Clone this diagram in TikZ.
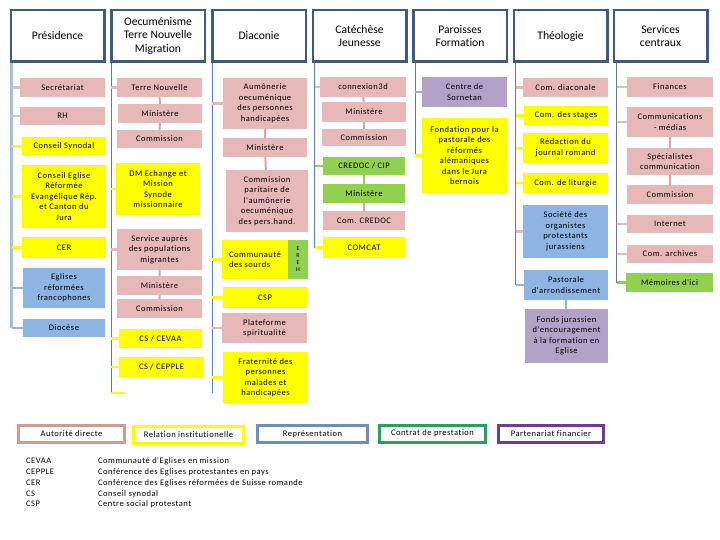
\documentclass[tikz,border=0pt]{standalone}
\usepackage{fontspec}
\setmainfont{Carlito}[Ligatures=NoCommon]
\newfontfamily\smallfont[LetterSpace=6, Ligatures=NoCommon]{Carlito}
\usepackage{tikz}

\definecolor{headline}{HTML}{3F5A7A}
\definecolor{pinkfill}{HTML}{E6B9B8}
\definecolor{yellowfill}{HTML}{FFFF00}
\definecolor{greenfill}{HTML}{92D050}
\definecolor{bluefill}{HTML}{8DB4E2}
\definecolor{purplefill}{HTML}{B3A2C7}
\definecolor{spineblue}{HTML}{5B7DA6}
\definecolor{palespine}{HTML}{A7BFDE}
\definecolor{pinkline}{HTML}{D8A4A3}
\definecolor{legpink}{HTML}{D09A99}
\definecolor{legblue}{HTML}{6C8EBF}
\definecolor{leggreen}{HTML}{2E9E5B}
\definecolor{legpurple}{HTML}{6E3C96}

\tikzset{
  headbox/.style={draw=headline, line width=2.5pt, fill=white, minimum width=93.5pt,
    minimum height=51.5pt, align=center, inner sep=1pt, font=\fontsize{11.6}{13.5}\selectfont},
  orgbox/.style={minimum height=19pt, minimum width=85pt, align=center, inner sep=1pt,
    font=\smallfont\fontsize{8.5}{10.5}\selectfont},
  pinkbox/.style={orgbox, fill=pinkfill},
  yellowbox/.style={orgbox, fill=yellowfill},
  greenbox/.style={orgbox, fill=greenfill},
  bluebox/.style={orgbox, fill=bluefill},
  purplebox/.style={orgbox, fill=purplefill},
  spine/.style={draw=spineblue, line width=0.8pt},
  stub/.style={line width=2.5pt},
  link/.style={line width=2pt},
  legbox/.style={draw, line width=3pt, fill=white, minimum height=17pt, inner sep=1pt,
    font=\smallfont\fontsize{8.5}{10.5}\selectfont},
  abbr/.style={anchor=west, inner sep=0pt, font=\smallfont\fontsize{8.5}{10.5}\selectfont}
}

\begin{document}
\begin{tikzpicture}[x=1pt, y=-1pt]
        \useasboundingbox (0,0) rectangle (720,540);

        % Column heads
        \node[headbox] (pres) at (57.5,36) {Présidence};
        \node[headbox] (oecu) at (158,36) {Oecuménisme\\Terre Nouvelle\\Migration};
        \node[headbox] (diac) at (259,36) {Diaconie};
        \node[headbox] (cate) at (359.5,36) {Catéchèse\\Jeunesse};
        \node[headbox] (paro) at (460,36) {Paroisses\\Formation};
        \node[headbox] (theo) at (560.5,36) {Théologie};
        \node[headbox] (serv) at (660.5,36) {Services\\centraux};

        % Présidence
        \node[pinkbox] (sec) at (62.5,87.5) {Secrétariat};
        \node[pinkbox, minimum height=18pt] (rh) at (62.5,116) {RH};
        \node[yellowbox, minimum width=84pt, minimum height=18pt] (cs) at (64,146) {Conseil Synodal};
        \node[yellowbox, minimum width=84pt, minimum height=63pt] (cerj) at (64,196.5) {Conseil Eglise\\Réformée\\Evangélique Rép.\\et Canton du\\Jura};
        \node[yellowbox, minimum width=84pt, minimum height=21pt] (cer) at (64,247.5) {CER};
        \node[bluebox, minimum width=82pt, minimum height=40pt] (erf) at (64,288) {Eglises\\réformées\\francophones};
        \node[bluebox, minimum width=82pt, minimum height=18pt] (dioc) at (64,328) {Diocèse};

        % Oecuménisme
        \node[pinkbox] (tn) at (159.5,87.5) {Terre Nouvelle};
        \node[pinkbox, minimum width=84pt] (oMin) at (160,113.5) {Ministère};
        \node[pinkbox, minimum height=18pt] (oCom) at (159.5,139) {Commission};
        \node[yellowbox, minimum width=84pt, minimum height=52pt] (dm) at (158,189) {DM Echange et\\Mission\\Synode\\missionnaire};
        \node[pinkbox, minimum height=41pt] (spm) at (159.5,249.5) {Service auprès\\des populations\\migrantes};
        \node[pinkbox] (oMinb) at (159.5,285.5) {Ministère};
        \node[pinkbox] (oComb) at (159.5,308.5) {Commission};
        \node[yellowbox, minimum width=83pt] (cevaa) at (160.5,338.5) {CS / CEVAA};
        \node[yellowbox, minimum height=20pt] (cepple) at (161.5,367) {CS / CEPPLE};
        \coordinate (oEnd) at (125,393);

        % Diaconie
        \node[pinkbox, minimum width=84pt, minimum height=51pt] (aum) at (265,103.5) {Aumônerie\\oecuménique\\des personnes\\handicapées};
        \node[pinkbox, minimum width=84pt] (dMin) at (265,147.5) {Ministère};
        \node[pinkbox, minimum width=82pt, minimum height=62pt] (cpa) at (267,201) {Commission\\paritaire de\\l'aumônerie\\oecuménique\\des pers.hand.};
        \node[yellowbox, minimum width=66pt, minimum height=39pt, align=left] (sourds) at (255,259.5) {Communauté\\des sourds};
        \node[greenbox, minimum width=20pt, minimum height=39pt, font=\smallfont\fontsize{6}{7}\selectfont] (sereh) at (298,259.5) {E\\R\\E\\H};
        \node[yellowbox, minimum width=84pt, minimum height=21pt] (csp) at (265,297.5) {CSP};
        \node[pinkbox, minimum height=30pt] (plat) at (264.5,328) {Plateforme\\spiritualité};
        \node[yellowbox, minimum height=51pt] (frat) at (265.5,377.5) {Fraternité des\\personnes\\malades et\\handicapées};
        \coordinate (dEnd) at (0,393);

        % Catéchèse
        \node[pinkbox, minimum width=86pt, minimum height=20pt] (c3d) at (363,87) {connexion3d};
        \node[pinkbox, minimum width=84pt, minimum height=20pt] (cMin) at (364,112) {Ministère};
        \node[pinkbox, minimum width=84pt, minimum height=17pt] (cCom) at (364,137.5) {Commission};
        \node[greenbox, minimum width=82pt, minimum height=18pt] (credoc) at (364,166) {CREDOC / CIP};
        \node[greenbox, minimum width=82pt] (cMinb) at (364,193.5) {Ministère};
        \node[pinkbox, minimum width=82pt] (ccred) at (364,220.5) {Com. CREDOC};
        \node[yellowbox, minimum width=82pt, minimum height=21pt] (comcat) at (364,247.5) {COMCAT};

        % Paroisses
        \node[purplebox, minimum height=30pt] (sorn) at (464.5,92) {Centre de\\Sornetan};
        \node[yellowbox, minimum height=75pt] (fond) at (464.5,155.5) {Fondation pour la\\pastorale des\\réformés\\alémaniques\\dans le Jura\\bernois};

        % Théologie
        \node[pinkbox] (cdia) at (565.5,87.5) {Com. diaconale};
        \node[yellowbox, minimum width=84pt] (cstag) at (566,115.5) {Com. des stages};
        \node[yellowbox, minimum height=30pt] (redac) at (565.5,148) {Rédaction du\\journal romand};
        \node[yellowbox, minimum height=20pt] (clit) at (565.5,183) {Com. de liturgie};
        \node[bluebox, minimum height=53pt] (sorg) at (565.5,231.5) {Société des\\organistes\\protestants\\jurassiens};
        \node[bluebox, minimum width=84pt, minimum height=30pt] (past) at (566,285) {Pastorale\\d'arrondissement};
        \node[purplebox, minimum width=83pt, minimum height=54pt] (fonds) at (566.5,336) {Fonds jurassien\\d'encouragement\\à la formation en\\Eglise};

        % Services centraux
        \node[pinkbox, minimum width=86pt, minimum height=20pt] (fin) at (670,87) {Finances};
        \node[pinkbox, minimum width=86pt, minimum height=30pt] (comm) at (670,122) {Communications\\- médias};
        \node[pinkbox, minimum width=86pt, minimum height=27pt] (spec) at (670,161.5) {Spécialistes\\communication};
        \node[pinkbox, minimum width=86pt] (sCom) at (670,194.5) {Commission};
        \node[pinkbox, minimum width=86pt, minimum height=18pt] (inet) at (670,224) {Internet};
        \node[pinkbox, minimum width=86pt, minimum height=18pt] (arch) at (670,254) {Com. archives};
        \node[greenbox, minimum width=87pt] (mem) at (669.5,282.5) {Mémoires d'ici};

        % Spine tops
        \coordinate (pTop) at ([xshift=2pt]pres.south west);
        \coordinate (oTop) at ([xshift=1pt]oecu.south west);
        \coordinate (dTop) at ([xshift=1pt]diac.south west);
        \coordinate (cTop) at ([xshift=3pt]cate.south west);
        \coordinate (fTop) at ([xshift=3pt]paro.south west);
        \coordinate (tTop) at ([xshift=3pt]theo.south west);
        \coordinate (sTop) at ([xshift=4pt]serv.south west);

        % Spines
        \draw[palespine, line width=3pt] (pTop) -- (pTop |- dioc.west);
        \draw[spine] (oTop) -- (oTop |- oEnd);
        \draw[spine] (dTop) -- (dTop |- dEnd);
        \draw[spine] (cTop) -- (cTop |- comcat.west);
        \draw[spine] (fTop) -- (fTop |- fond.west);
        \draw[spine] (tTop) -- (tTop |- past.west);
        \draw[spine] (sTop) -- (sTop |- mem.west);

        % Stubs
        \draw[stub, pinkfill] (sec.west -| pTop) -- (sec.west);
        \draw[stub, pinkfill] (rh.west -| pTop) -- (rh.west);
        \draw[stub, yellowfill] (cs.west -| pTop) -- (cs.west);
        \draw[stub, yellowfill] (cerj.west -| pTop) -- (cerj.west);
        \draw[stub, yellowfill] (cer.west -| pTop) -- (cer.west);
        \draw[stub, bluefill] (erf.west -| pTop) -- (erf.west);
        \draw[stub, bluefill] (dioc.west -| pTop) -- (dioc.west);

        \draw[stub, pinkfill] (tn.west -| oTop) -- (tn.west);
        \draw[stub, yellowfill] (dm.west -| oTop) -- (dm.west);
        \draw[stub, pinkfill] (spm.west -| oTop) -- (spm.west);
        \draw[stub, yellowfill] (cevaa.west -| oTop) -- (cevaa.west);
        \draw[stub, yellowfill] (cepple.west -| oTop) -- (cepple.west);
        \draw[stub, yellowfill] (oEnd -| oTop) -- (oEnd);

        \draw[stub, pinkfill] (aum.west -| dTop) -- (aum.west);
        \draw[stub, yellowfill] (sourds.west -| dTop) -- (sourds.west);
        \draw[stub, yellowfill] (csp.west -| dTop) -- (csp.west);
        \draw[stub, pinkfill] (plat.west -| dTop) -- (plat.west);
        \draw[stub, yellowfill] (frat.west -| dTop) -- (frat.west);

        \draw[stub, pinkfill] (c3d.west -| cTop) -- (c3d.west);
        \draw[stub, greenfill] (credoc.west -| cTop) -- (credoc.west);
        \draw[stub, yellowfill] (comcat.west -| cTop) -- (comcat.west);

        \draw[stub, purplefill] (sorn.west -| fTop) -- (sorn.west);
        \draw[stub, yellowfill] (fond.west -| fTop) -- (fond.west);

        \draw[stub, pinkfill] (cdia.west -| tTop) -- (cdia.west);
        \draw[stub, yellowfill] (cstag.west -| tTop) -- (cstag.west);
        \draw[stub, yellowfill] (redac.west -| tTop) -- (redac.west);
        \draw[stub, yellowfill] (clit.west -| tTop) -- (clit.west);
        \draw[stub, pinkfill] (sorg.west -| tTop) -- (sorg.west);
        \draw[stub, bluefill] (past.west -| tTop) -- (past.west);

        \draw[stub, pinkfill] (fin.west -| sTop) -- (fin.west);
        \draw[stub, pinkfill] (comm.west -| sTop) -- (comm.west);
        \draw[stub, pinkfill] (inet.west -| sTop) -- (inet.west);
        \draw[stub, pinkfill] (arch.west -| sTop) -- (arch.west);
        \draw[stub, greenfill] (mem.west -| sTop) -- (mem.west);

        % Links inside a column
        \draw[link, pinkline] (tn) -- (oMin) (oMin) -- (oCom)
              (spm) -- (oMinb) (oMinb) -- (oComb)
              (aum) -- (dMin) (dMin) -- (cpa)
              (c3d) -- (cMin) (cMin) -- (cCom)
              (cMinb) -- (ccred)
              (comm) -- (spec) (spec) -- (sCom);
        \draw[link, greenfill] (credoc) -- (cMinb);
        \draw[link, bluefill] (past) -- (fonds);

        % Legend
        \node[legbox, draw=legpink, minimum width=106pt] (lAut) at (71.5,434) {Autorité directe};
        \node[legbox, draw=yellowfill, minimum width=110pt] (lRel) at (188.5,434.5) {Relation institutionelle};
        \node[legbox, draw=legblue, minimum width=110pt] (lRep) at (312.5,434) {Représentation};
        \node[legbox, draw=leggreen, minimum width=106pt] (lCon) at (432.5,433.5) {Contrat de prestation};
        \node[legbox, draw=legpurple, minimum width=105pt] (lPar) at (551,434) {Partenariat financier};

        % Abbreviations
        \node[abbr] (aCevaa) at (26,461) {CEVAA};
        \node[abbr] (aCepple) at (26,472) {CEPPLE};
        \node[abbr] (aCer) at (26,483) {CER};
        \node[abbr] (aCs) at (26,494) {CS};
        \node[abbr] (aCsp) at (26,504) {CSP};
        \node[abbr] (tCevaa) at (98,461) {Communauté d'Eglises en mission};
        \node[abbr] (tCepple) at (98,472) {Conférence des Eglises protestantes en pays};
        \node[abbr] (tCer) at (98,483) {Conférence des Eglises réformées de Suisse romande};
        \node[abbr] (tCs) at (98,494) {Conseil synodal};
        \node[abbr] (tCsp) at (98,504) {Centre social protestant};
\end{tikzpicture}
\end{document}
